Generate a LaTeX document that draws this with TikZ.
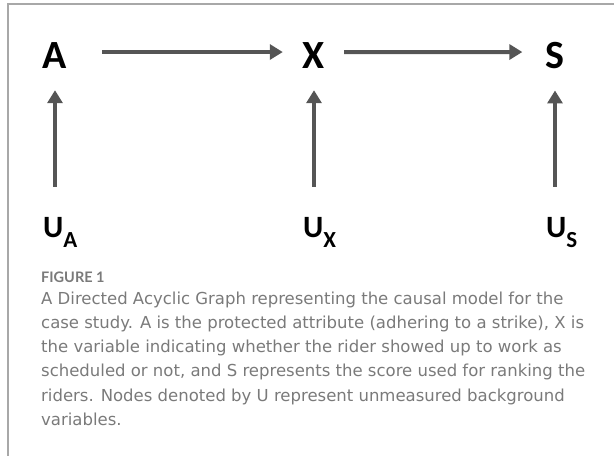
\documentclass[tikz,border=0pt]{standalone}
\usepackage{fontspec}
\setmainfont{Carlito}
\newfontfamily\capfont{DejaVu Sans}
\newfontfamily\figfont{Lato}
\usepackage{xcolor}
\usepackage{tikz}
\usetikzlibrary{arrows.meta, positioning, calc}
\definecolor{arrgray}{HTML}{555555}
\definecolor{capgray}{HTML}{7A7A7A}
\definecolor{framegray}{HTML}{A8A8A8}
\tikzstyle{var} = [inner sep=0pt, font=\bfseries\fontsize{40}{40}\selectfont]
\tikzstyle{bgvar} = [inner sep=0pt, font=\bfseries\fontsize{31}{31}\selectfont]
\tikzstyle{arr} = [-{Triangle[length=13pt, width=15pt]}, line width=4pt, draw=arrgray]
\tikzstyle{figlab} = [inner sep=0pt, font=\figfont\bfseries\fontsize{14.5}{16}\selectfont, text=capgray]
\tikzstyle{captxt} = [inner sep=0pt, align=left, font=\capfont\fontsize{16.5}{24.2}\selectfont, text=capgray]
\newcommand{\subvar}[1]{\raisebox{-10pt}{\fontsize{23}{23}\selectfont #1}}

\begin{document}
\begin{tikzpicture}[x=1pt, y=-1pt]
  \useasboundingbox (0,0) rectangle (614,456);
  % ---------- frame (top and left rules) ----------
  \draw[framegray, line width=1.3pt] (614,4) -- (8,4) -- (8,456);
  % ---------- observed variables ----------
  \node[var, anchor=base] (A) at (55,68)  {A};
  \node[var, anchor=base] (X) at (314,68) {X};
  \node[var, anchor=base] (S) at (555,68) {S};
  % ---------- background variables ----------
  \node[bgvar, anchor=base west] (UA) at (43,237)  {U\subvar{A}};
  \node[bgvar, anchor=base west] (UX) at (303,237) {U\subvar{X}};
  \node[bgvar, anchor=base west] (US) at (546,237) {U\subvar{S}};
  % ---------- edges ----------
  \draw[arr, shorten <=35pt, shorten >=20pt] ([yshift=3pt]A.east) -- ([yshift=3pt]X.west);
  \draw[arr, shorten <=19pt, shorten >=23pt] ([yshift=3pt]X.east) -- ([yshift=3pt]S.west);
  \draw[arr, shorten <=30pt, shorten >=22pt] (UA.north -| A.south) -- (A.south);
  \draw[arr, shorten <=30pt, shorten >=22pt] (UX.north -| X.south) -- (X.south);
  \draw[arr, shorten <=30pt, shorten >=22pt] (US.north -| S.south) -- (S.south);
  % ---------- caption ----------
  \node[figlab, anchor=base west] (fig) at (41,282) {FIGURE 1};
  \node[captxt, anchor=north west] (cap) at (41,291.5) {A Directed Acyclic Graph representing the causal model for the\\
    case study. A is the protected attribute (adhering to a strike), X is\\
    the variable indicating whether the rider showed up to work as\\
    scheduled or not, and S represents the score used for ranking the\\
    riders. Nodes denoted by U represent unmeasured background\\
    variables.};
\end{tikzpicture}
\end{document}
